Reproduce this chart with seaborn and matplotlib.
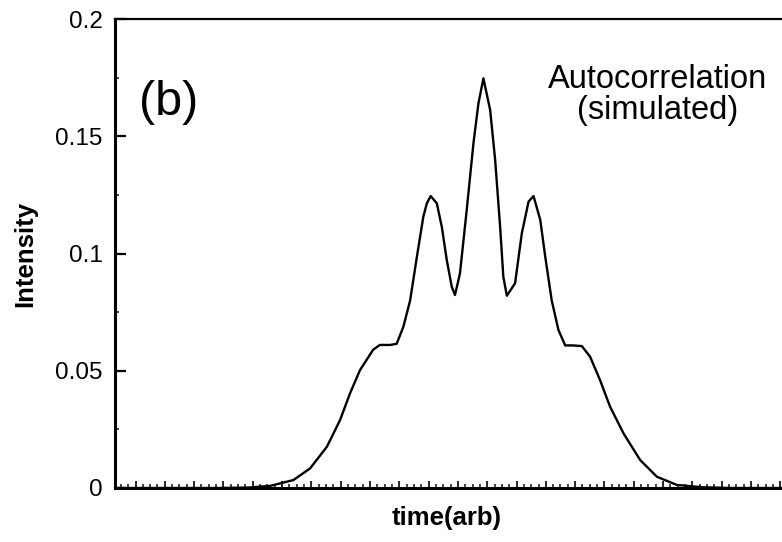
import matplotlib
matplotlib.use("Agg")
import matplotlib.pyplot as plt
from matplotlib.ticker import MultipleLocator, FixedLocator
import numpy as np
import pandas as pd
import seaborn as sns

# ---- data ----
time_arb = [-12.5, -10.0, -9.0, -8.0, -7.28, -6.48, -5.91, -5.34, -4.89, -4.55,
            -4.21, -3.76, -3.53, -3.18, -2.96, -2.73, -2.50, -2.27, -2.05, -1.93,
            -1.80, -1.59, -1.42, -1.25, -1.08, -0.97, -0.80, -0.57, -0.34, -0.17,
            0.0, 0.23, 0.40, 0.57, 0.68, 0.80, 1.08, 1.31, 1.54, 1.71,
            1.94, 2.11, 2.33, 2.56, 2.79, 3.06, 3.36, 3.64, 3.98, 4.32,
            4.78, 5.35, 5.92, 6.60, 7.50, 8.50, 10.3]
intensity = [0.0, 0.0, 0.0, 0.0002, 0.0009, 0.0034, 0.0084, 0.0176, 0.029, 0.0404,
             0.0503, 0.059, 0.061, 0.061, 0.0615, 0.0688, 0.080, 0.0986, 0.1157, 0.1214,
             0.1245, 0.1214, 0.1114, 0.0972, 0.0858, 0.0823, 0.0915, 0.1185, 0.147, 0.164,
             0.1747, 0.1612, 0.140, 0.1114, 0.090, 0.082, 0.0873, 0.1086, 0.1221, 0.1245,
             0.1143, 0.0986, 0.080, 0.0674, 0.0608, 0.0608, 0.0605, 0.056, 0.046, 0.0347,
             0.0233, 0.0119, 0.0048, 0.0013, 0.0003, 0.0, 0.0]
y_ticks = [0, 0.05, 0.1, 0.15, 0.2]
y_tick_labels = ["0", "0.05", "0.1", "0.15", "0.2"]
x_label = "time(arb)"
y_label = "Intensity"
panel_label = "(b)"
note_lines = ["Autocorrelation", "(simulated)"]

sns.set_theme(style="ticks")
plt.rcParams['font.family'] = ['Liberation Sans', 'DejaVu Sans']

fig = plt.figure(figsize=(7.82, 5.42), dpi=100)
fig.patch.set_facecolor("white")
ax = fig.add_axes([115 / 782, 54 / 542, 670 / 782, 469 / 542])
ax.set_facecolor("white")

df = pd.DataFrame({"time": time_arb, "intensity": intensity})
sns.lineplot(data=df, x="time", y="intensity", ax=ax, color="black",
             linewidth=1.7, sort=False, estimator=None)

ax.set_xlim(-12.57, 10.29)
ax.set_ylim(0, 0.2)

# spines
for side in ["left", "bottom", "top"]:
    ax.spines[side].set_color("black")
ax.spines["left"].set_linewidth(2.2)
ax.spines["bottom"].set_linewidth(2.2)
ax.spines["top"].set_linewidth(1.6)
ax.spines["right"].set_visible(False)

# y ticks
ax.yaxis.set_major_locator(FixedLocator(y_ticks))
ax.set_yticklabels(y_tick_labels)
ax.yaxis.set_minor_locator(MultipleLocator(0.025))
ax.tick_params(axis="y", which="major", direction="in", length=8, width=1.6,
               labelsize=17.5, pad=9, colors="black", left=True, right=False)
ax.tick_params(axis="y", which="minor", direction="in", length=3, width=1.2,
               left=True, right=False)

# x ticks (no labels)
ax.xaxis.set_major_locator(MultipleLocator(1.0, offset=0.13))
ax.xaxis.set_minor_locator(MultipleLocator(0.25, offset=0.13))
ax.tick_params(axis="x", which="major", direction="in", length=5, width=1.4,
               labelbottom=False, bottom=True, top=False)
ax.tick_params(axis="x", which="minor", direction="in", length=3, width=1.2,
               bottom=True, top=False)

# axis labels
ax.set_xlabel(x_label, fontsize=18.5, fontweight="bold", color="black")
ax.set_ylabel(y_label, fontsize=18.5, fontweight="bold", color="black")
ax.xaxis.set_label_coords((447 - 115) / 670, -0.038)
ax.yaxis.set_label_coords(-0.116, 0.5)

# annotations
fig.text(139 / 782, 1 - 115 / 542, panel_label, ha="left", va="baseline",
         fontsize=35, color="black")
fig.text(658 / 782, 1 - 88 / 542, note_lines[0], ha="center", va="baseline",
         fontsize=23.5, color="black")
fig.text(658 / 782, 1 - 119 / 542, note_lines[1], ha="center", va="baseline",
         fontsize=23.5, color="black")

fig.savefig("out.png", dpi=100, facecolor="white")
